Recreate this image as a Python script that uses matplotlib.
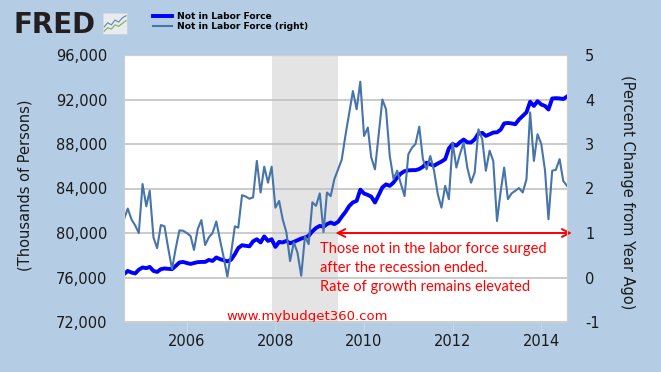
# FRED-style chart: Not in Labor Force, level (left) and % change from year ago (right)

import matplotlib.pyplot as plt
import matplotlib.dates as mdates
import numpy as np
import pandas as pd

plt.rcParams["axes.unicode_minus"] = False

# monthly observations, Aug 2004 - Aug 2014
months = pd.date_range("2004-08-01", periods=121, freq="MS")

# level, thousands of persons (left axis)
nilf_level = [
    76300, 76590, 76450, 76360, 76700, 76900, 76840, 76950, 76590, 76500,
    76750, 76810, 76780, 76750, 77040, 77350, 77400, 77300, 77220, 77300,
    77380, 77400, 77400, 77580, 77490, 77800, 77650, 77550, 77450, 77600,
    78100, 78650, 78900, 78850, 78800, 79250, 79440, 79150, 79690, 79290,
    79440, 78750, 79200, 79150, 79290, 79080, 79200, 79350, 79500, 79600,
    79740, 80150, 80450, 80640, 80560, 80800, 80940, 80800, 81000, 81460,
    81900, 82430, 82750, 82890, 83900, 83550, 83420, 83270, 82740, 83400,
    84100, 84370, 84240, 84540, 84990, 85350, 85560, 85630, 85650, 85650,
    85750, 85950, 86320, 86170, 86050, 86250, 86420, 86640, 87600, 88000,
    87850, 88150, 88400, 88150, 88140, 88420, 88950, 89000, 88730, 88870,
    89030, 89050, 89300, 89850, 89890, 89850, 89780, 90200, 90520, 90850,
    91800, 91420, 91850, 91550, 91420, 91100, 92090, 92120, 92100, 92040, 92270,
]

# percent change from year ago (right axis)
nilf_pct = [
    1.31, 1.55, 1.31, 1.17, 1.00, 2.10, 1.60, 1.95, 0.90, 0.66,
    1.18, 1.15, 0.65, 0.19, 0.65, 1.06, 1.05, 1.00, 0.93, 0.62,
    1.09, 1.29, 0.73, 0.90, 1.00, 1.26, 0.85, 0.45, 0.02, 0.55,
    1.15, 1.12, 1.85, 1.82, 1.77, 1.80, 2.62, 1.91, 2.49, 2.13,
    2.49, 1.57, 1.72, 1.31, 1.01, 0.37, 0.79, 0.56, 0.04, 0.93,
    0.75, 1.69, 1.61, 1.89, 1.02, 1.91, 1.83, 2.21, 2.43, 2.65,
    3.20, 3.70, 4.19, 3.78, 4.40, 3.18, 3.37, 2.70, 2.43, 3.20,
    4.00, 3.78, 2.73, 2.21, 2.40, 2.10, 1.83, 2.77, 2.92, 3.00,
    3.39, 2.66, 2.43, 2.73, 2.40, 1.87, 1.57, 2.06, 1.76, 3.03,
    2.47, 2.77, 3.03, 2.47, 2.13, 2.36, 3.33, 3.11, 2.40, 2.85,
    2.62, 1.27, 1.95, 2.47, 1.76, 1.89, 1.95, 2.01, 1.91, 2.21,
    3.71, 2.62, 3.22, 3.00, 2.40, 1.31, 2.40, 2.42, 2.66, 2.17, 2.06,
]

recession = (pd.Timestamp("2007-12-01"), pd.Timestamp("2009-06-01"))
arrow_span = (pd.Timestamp("2009-05-10"), pd.Timestamp("2014-09-10"))
arrow_level = 80000

left_ticks = [72000, 76000, 80000, 84000, 88000, 92000, 96000]
right_ticks = [-1, 0, 1, 2, 3, 4, 5]
year_ticks = [2006, 2008, 2010, 2012, 2014]

note = "Those not in the labor force surged\nafter the recession ended.\nRate of growth remains elevated"

# colours
bg_col = "#b4cde4"
level_col = "#0000ff"
pct_col = "#4774aa"
red = "#ff0000"

fig = plt.figure(figsize=(6.61, 3.72), dpi=100, facecolor=bg_col)
ax = fig.add_axes([124 / 661, 1 - 322 / 372, 443 / 661, 267 / 372])
ax2 = ax.twinx()

ax.axvspan(recession[0], recession[1], color="#e4e4e4", lw=0, zorder=0.1)
ax.plot(months, nilf_level, color=level_col, lw=2.8, solid_joinstyle="round",
        label="Not in Labor Force", zorder=3)
ax2.plot(months, nilf_pct, color=pct_col, lw=1.5, label="Not in Labor Force (right)")

ax.set_xlim(months[0], months[-1])
ax.set_ylim(72000, 96000)
ax2.set_ylim(-1, 5)
ax.set_yticks(left_ticks)
ax.set_yticklabels([f"{v:,}" for v in left_ticks])
ax2.set_yticks(right_ticks)
ax.set_xticks([pd.Timestamp(f"{y}-01-01") for y in year_ticks])
ax.xaxis.set_major_formatter(mdates.DateFormatter("%Y"))

ax.set_axisbelow(True)
ax.grid(axis="y", color="#bdbdbd", lw=1.1)
ax.grid(axis="x", visible=False)
for a in (ax, ax2):
    for s in a.spines.values():
        s.set_color("#cfcfcf")
        s.set_linewidth(0.8)
ax.tick_params(axis="y", length=0, pad=12, labelsize=10.5, labelcolor="#1a1a1a")
ax2.tick_params(axis="y", length=0, pad=13, labelsize=10.5, labelcolor="#1a1a1a")
ax.tick_params(axis="x", length=8, color="#c8d8e8", pad=1, labelsize=10.5,
               labelcolor="#1a1a1a")

fig.text(25 / 661, 1 - 185 / 372, "(Thousands of Persons)", rotation=90,
         ha="center", va="center", fontsize=10.5, color="#1a1a1a")
fig.text(627 / 661, 1 - 192 / 372, "(Percent Change from Year Ago)", rotation=-90,
         ha="center", va="center", fontsize=10.5, color="#1a1a1a")

# annotation
ax.annotate("", xy=(arrow_span[1], arrow_level), xytext=(arrow_span[0], arrow_level),
            arrowprops=dict(arrowstyle="<->", color=red, lw=1.4, mutation_scale=14,
                            shrinkA=0, shrinkB=0),
            annotation_clip=False)
ax.text(pd.Timestamp("2009-01-05"), 79180, note, color=red, fontsize=10.5,
        family="Lato", va="top", ha="left", linespacing=1.45)
ax.text(pd.Timestamp("2006-11-20"), 71950, "www.mybudget360.com", color=red,
        fontsize=9.5, va="bottom", ha="left")

# header: logo and legend
fig.text(13 / 661, 1 - 33 / 372, "FRED", fontsize=20, fontweight="heavy",
         color="#231f20", ha="left", va="baseline")
icon = fig.add_axes([103 / 661, 1 - 34 / 372, 24 / 661, 21 / 372])
icon.set_facecolor("#e8ecef")
icon_x = [0, 1, 2, 3, 4, 5, 6]
icon_blue = [2.0, 3.2, 2.6, 4.0, 3.4, 4.6, 5.2]
icon_green = [0.8, 1.8, 1.4, 2.6, 2.2, 3.0, 3.8]
icon.plot(icon_x, icon_blue, color="#6d8fb0", lw=0.9)
icon.plot(icon_x, icon_green, color="#8ab06a", lw=0.9)
icon.set_xlim(-0.3, 6.3)
icon.set_ylim(0, 6)
icon.set_xticks([])
icon.set_yticks([])
for s in icon.spines.values():
    s.set_color("#d0d4d8")
    s.set_linewidth(0.5)

h1, l1 = ax.get_legend_handles_labels()
h2, l2 = ax2.get_legend_handles_labels()
fig.legend(h1 + h2, l1 + l2, loc="upper left", bbox_to_anchor=(153 / 661, 1 - 12 / 372),
           frameon=False, prop={"size": 6.6, "weight": "bold"}, handlelength=2.1,
           handletextpad=0.5, labelspacing=0.15, borderaxespad=0, borderpad=0)

fig.savefig("out.png", dpi=100, facecolor=bg_col)
